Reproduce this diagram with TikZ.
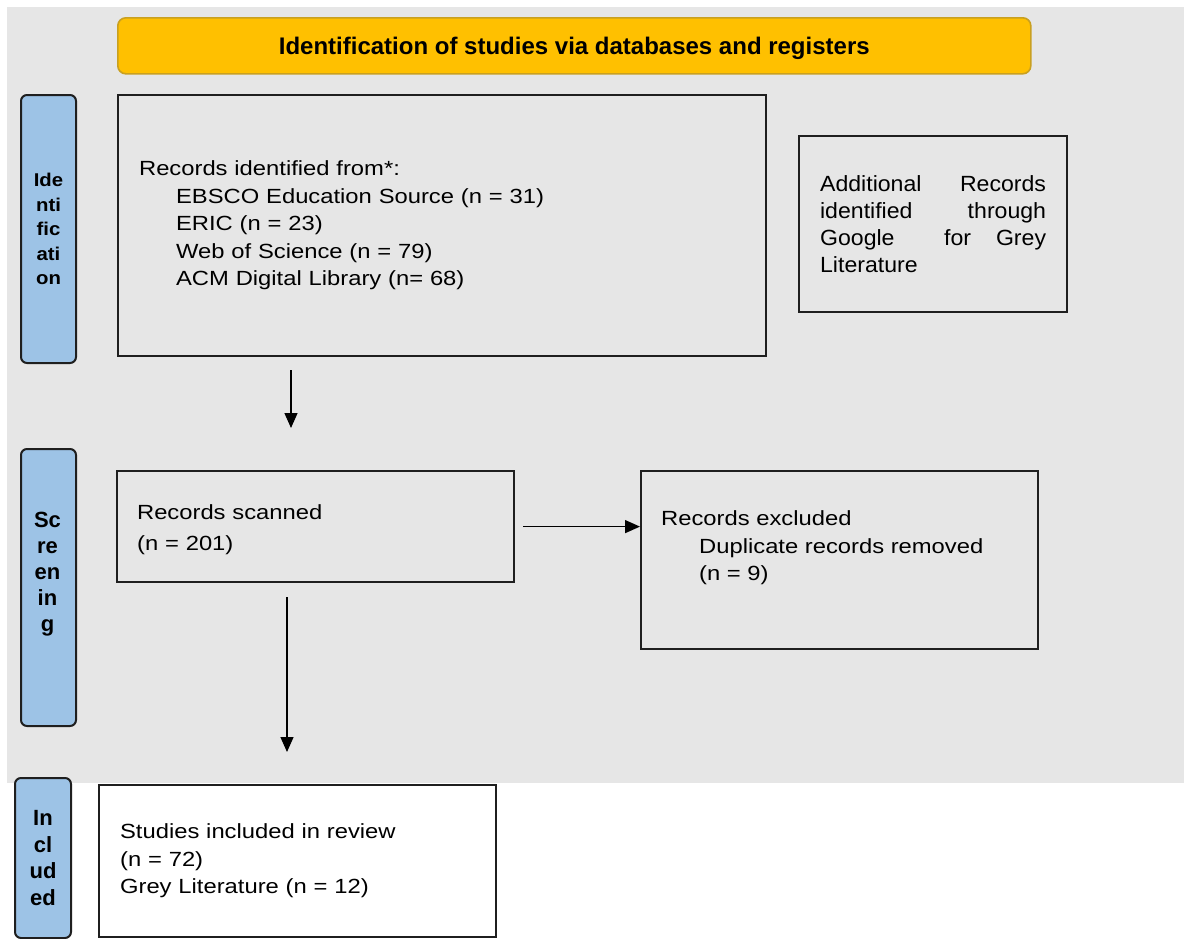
\documentclass[tikz,border=0pt]{standalone}
\usepackage{fontspec}
\setmainfont{Liberation Sans}
\newfontfamily\bodyf{Liberation Sans}[FakeStretch=1.16]
\newfontfamily\addf{Liberation Sans}[FakeStretch=1.05]
\newfontfamily\labf{Liberation Sans}[FakeStretch=1.1]
\usetikzlibrary{arrows.meta}
\definecolor{bggrey}{HTML}{E6E6E6}
\definecolor{labblue}{HTML}{9DC3E6}
\definecolor{hdrfill}{HTML}{FFC000}
\definecolor{hdrline}{HTML}{C9A020}
\definecolor{boxline}{HTML}{1F1F1F}
\begin{document}
\begin{tikzpicture}[x=1pt,y=-1pt,
  box/.style={draw=boxline, line width=2.2pt, anchor=north west, inner ysep=0pt, align=left},
  bodytxt/.style={font=\bodyf\fontsize{20.5}{27.5}\selectfont},
  lab/.style={draw=boxline, line width=2pt, fill=labblue, rounded corners=6pt, anchor=north west, inner sep=0pt, align=center},
  arr/.style={draw=black, line width=1.4pt, -{Triangle[length=15pt,width=13pt]}}]
\useasboundingbox (0,0) rectangle (1184,938);
\node[fill=bggrey, anchor=north west, inner sep=0pt, minimum width=1177, minimum height=776] (bg) at (7,7) {};
% header
\node[draw=hdrline, fill=hdrfill, line width=1.6pt, rounded corners=8pt, anchor=north west, inner sep=0pt,
  minimum width=913, minimum height=56, text height=19pt, text depth=1pt,
  font=\bfseries\fontsize{24}{28}\selectfont] (hdr) at (117,17)
  {Identification of studies via databases and registers};
% side labels
\node[lab, minimum width=55, minimum height=268, font=\labf\bfseries\fontsize{18.5}{24.5}\selectfont] (identlab) at (20,94) {Ide\\nti\\fic\\ati\\on};
\node[lab, minimum width=55, minimum height=277] (screenlab) at (20,448) {};
\node[align=center, inner sep=0pt, font=\bfseries\fontsize{22}{26}\selectfont] (screentxt) at (47.5,574) {Sc\\re\\en\\in\\g};
\node[lab, minimum width=56, minimum height=160, font=\bfseries\fontsize{22}{26.7}\selectfont] (inclab) at (14,777) {In\\cl\\ud\\ed};
% boxes
\node[box, bodytxt, minimum width=648, minimum height=261, text width=606, inner xsep=21pt] (ident) at (117,94)
  {Records identified from*:\\
   \hspace*{37pt}EBSCO Education Source (n = 31)\\
   \hspace*{37pt}ERIC (n = 23)\\
   \hspace*{37pt}Web of Science (n = 79)\\
   \hspace*{37pt}ACM Digital Library (n= 68)};
\node[box, minimum width=268, minimum height=176, text width=226, inner xsep=21pt, font=\addf\fontsize{22}{27.3}\selectfont] (addl) at (798,135)
  {\makebox[226pt][l]{Additional\hfill Records}\\
   \makebox[226pt][l]{identified\hfill through}\\
   \makebox[226pt][l]{Google\hfill\hfill for\hfill Grey}\\
   Literature};
\node[box, minimum width=397, minimum height=111, text width=357, inner xsep=20pt, font=\bodyf\fontsize{20.5}{30.5}\selectfont] (scanned) at (116,470)
  {\rule{0pt}{21pt}Records scanned\\(n = 201)};
\node[box, minimum width=397, minimum height=178] (excl) at (640,470) {};
\node[bodytxt, anchor=west, align=left, inner sep=0pt] (excltxt) at (661,548)
  {Records excluded\\
   \hspace*{38pt}Duplicate records removed\\
   \hspace*{38pt}(n = 9)};
\node[box, fill=white, minimum width=397, minimum height=152, text width=355, inner xsep=21pt, bodytxt] (incl) at (98,784)
  {Studies included in review\\(n = 72)\\Grey Literature (n = 12)};
% connectors
\coordinate (a1s) at (291,370);
\coordinate (a1e) at (291,428);
\draw[arr] (a1s) -- (a1e);
\draw[arr, shorten <=8pt] (scanned.east) -- (scanned.east -| excl.west);
\coordinate (a3s) at (287,597);
\coordinate (a3e) at (287,752);
\draw[arr] (a3s) -- (a3e);
\end{tikzpicture}
\end{document}
